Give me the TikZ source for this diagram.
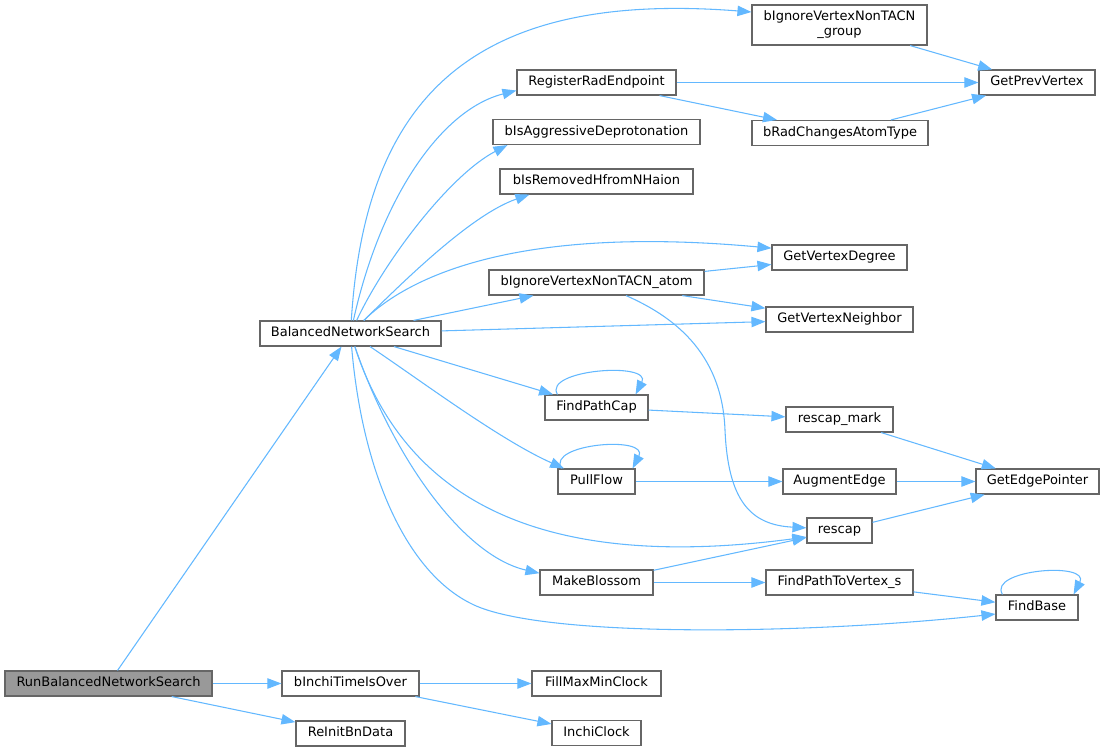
\documentclass[tikz,border=0pt]{standalone}
\usepackage{fontspec}
\setmainfont{DejaVu Sans}
\usepackage{tikz}
\usetikzlibrary{arrows.meta}
\definecolor{edgeblue}{HTML}{63B8FF}
\definecolor{boxgrey}{HTML}{666666}
\definecolor{rootgrey}{HTML}{999999}
\newcommand{\selfloop}[3]{\draw[edge] ([xshift=#2]#1.north west) .. controls +(-15,-25) and +(17,-33) .. ([xshift=#3]#1.north east);}

\begin{document}
\begin{tikzpicture}[x=0.75pt, y=-0.75pt,
        box/.style={draw=boxgrey, line width=0.85pt, fill=white, inner sep=0pt, minimum height=18.75pt, font=\fontsize{9.75}{11.25}\selectfont},
        fn/.style={box, text height=7.2pt, text depth=2.3pt},
        boxw/.style={minimum width=#1*0.75pt},
        edge/.style={draw=edgeblue, line width=0.8pt, -{Triangle[length=10.5pt,width=7.8pt]}}]
        \useasboundingbox (0,0) rectangle (1104,751);
        % column 1
        \node[fn, boxw=207, fill=rootgrey] (run) at (108.5,683.5) {RunBalancedNetworkSearch};
        % column 2
        \node[fn, boxw=181] (bns) at (350.5,333.5) {BalancedNetworkSearch};
        \node[fn, boxw=137] (tio) at (350.5,683.5) {bInchiTimeIsOver};
        \node[fn, boxw=109] (rei) at (350.5,733.5) {ReInitBnData};
        % column 3
        \node[fn, boxw=159] (rre) at (596.5,82.5) {RegisterRadEndpoint};
        \node[fn, boxw=207] (agg) at (596.5,132) {bIsAggressiveDeprotonation};
        \node[fn, boxw=193] (rem) at (596.5,181.5) {bIsRemovedHfromNHaion};
        \node[fn, boxw=215] (atom) at (596.5,282.5) {bIgnoreVertexNonTACN\_atom};
        \node[fn, boxw=103] (fpc) at (596.5,407.5) {FindPathCap};
        \node[fn, boxw=77] (pf) at (596.5,481.5) {PullFlow};
        \node[fn, boxw=113] (mb) at (596.5,582.5) {MakeBlossom};
        \node[fn, boxw=129] (fmm) at (596.5,683.5) {FillMaxMinClock};
        \node[fn, boxw=89] (ic) at (596.5,733) {InchiClock};
        % column 4
        \node[box, boxw=175, minimum height=30pt, align=center] (grp) at (839.5,25) {bIgnoreVertexNonTACN\\\_group};
        \node[fn, boxw=176] (rct) at (840,133) {bRadChangesAtomType};
        \node[fn, boxw=135] (gvd) at (839.5,257.5) {GetVertexDegree};
        \node[fn, boxw=147] (gvn) at (839.5,319.5) {GetVertexNeighbor};
        \node[fn, boxw=107] (rcm) at (839.5,419.5) {rescap\_mark};
        \node[fn, boxw=113] (ae) at (839.5,481.5) {AugmentEdge};
        \node[fn, boxw=65] (rescap) at (839.5,530.5) {rescap};
        \node[fn, boxw=147] (fpv) at (839.5,582.5) {FindPathToVertex\_s};
        % column 5
        \node[fn, boxw=116] (gpv) at (1037,82.5) {GetPrevVertex};
        \node[fn, boxw=123] (gep) at (1037.5,481.5) {GetEdgePointer};
        \node[fn, boxw=82] (fb) at (1037,607.5) {FindBase};
        % calls of RunBalancedNetworkSearch
        \draw[edge] (run) -- (bns);
        \draw[edge] (run) -- (tio);
        \draw[edge] (run) -- (rei);
        \draw[edge] (tio) -- (fmm);
        \draw[edge] (tio) -- (ic);
        % calls of BalancedNetworkSearch
        \draw[edge] (bns) .. controls (365,100) and (470,-10) .. ([yshift=9.75pt]grp.west);
        \draw[edge] (bns) .. controls (380,200) and (440,110) .. ([yshift=-6pt]rre.west);
        \draw[edge] (bns) .. controls (385,260) and (450,175) .. ([xshift=11.25pt]agg.south west);
        \draw[edge] (bns) .. controls (400,285) and (470,215) .. ([xshift=22.5pt]rem.south west);
        \draw[edge] (bns) .. controls (410,275) and (520,225) .. ([yshift=7pt]gvd.west);
        \draw[edge] (bns) -- (atom);
        \draw[edge] (bns) -- (gvn);
        \draw[edge] (bns) -- (fpc);
        \draw[edge] (bns) .. controls (420,380) and (500,440) .. ([xshift=5pt]pf.north west);
        \draw[edge] (bns) .. controls (400,485) and (520,575) .. ([yshift=-4.9pt]rescap.west);
        \draw[edge] (bns) .. controls (390,450) and (460,555) .. ([yshift=7pt]mb.west);
        \draw[edge] (bns) .. controls (362,470) and (405,570) .. (470,603) .. controls (535,638) and (800,635) .. ([yshift=-4.9pt]fb.west);
        % further calls
        \draw[edge] (rre) -- (gpv);
        \draw[edge] (rre) -- (rct);
        \draw[edge] (grp) -- (gpv);
        \draw[edge] (rct) -- (gpv);
        \draw[edge] (atom) -- (gvd);
        \draw[edge] (atom) -- (gvn);
        \draw[edge] (atom) .. controls (670,315) and (722,350) .. (725,430) .. controls (728,500) and (750,525) .. ([yshift=2pt]rescap.west);
        \draw[edge] (fpc) -- (rcm);
        \draw[edge] (pf) -- (ae);
        \draw[edge] (mb) -- (rescap);
        \draw[edge] (mb) -- (fpv);
        \draw[edge] (rcm) -- (gep);
        \draw[edge] (ae) -- (gep);
        \draw[edge] (rescap) -- (gep);
        \draw[edge] (fpv) -- (fb);
        % recursive calls
        \selfloop{fpc}{9.75pt}{-9.75pt}
        \selfloop{pf}{3pt}{-2.25pt}
        \selfloop{fb}{5.25pt}{-3.75pt}
\end{tikzpicture}
\end{document}
